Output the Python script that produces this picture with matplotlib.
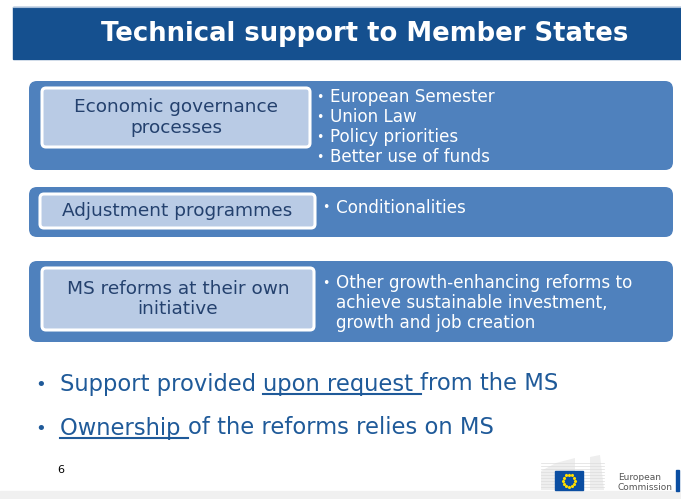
import numpy as np
import matplotlib
matplotlib.use("Agg")
import matplotlib.pyplot as plt
from matplotlib.patches import FancyBboxPatch, Rectangle, Polygon

plt.rcParams['font.family'] = ['DejaVu Sans']

# --- slide content ---
title = "Technical support to Member States"
box_labels = ["Economic governance\nprocesses", "Adjustment programmes",
              "MS reforms at their own\ninitiative"]
box_bullets = [
    ["European Semester", "Union Law", "Policy priorities", "Better use of funds"],
    ["Conditionalities"],
    ["Other growth-enhancing reforms to", "achieve sustainable investment,",
     "growth and job creation"],
]
# bottom bullets: (text, underlined?) pieces
bottom_bullets = [
    [("Support provided ", False), ("upon request ", True), ("from the MS", False)],
    [("Ownership ", True), ("of the reforms relies on MS", False)],
]
page_no = "6"
logo_text = ["European", "Commission"]

# layout (px)
outer = [(29, 81, 644, 89), (29, 187, 644, 50), (29, 261, 644, 81)]
inner = [(42, 88, 268, 59), (40, 194, 275, 34), (42, 268, 272, 62)]
bullet_x = [316, 322, 322]
bullet_y0 = [97, 208, 283]

DARK = "#15508f"
MID = "#4f81bd"
LIGHT = "#b9cbe5"
INNER_TXT = "#24416e"
BOTTOM_TXT = "#1f5a99"

fig = plt.figure(figsize=(6.81, 4.99), dpi=100)
ax = fig.add_axes([0, 0, 1, 1])
ax.set_xlim(0, 681)
ax.set_ylim(499, 0)
ax.axis("off")

# title bar
ax.add_patch(Rectangle((13, 7), 668, 52, color=DARK, zorder=1))
ax.plot([13, 681], [6.5, 6.5], color="#a9bfd9", lw=0.8, zorder=2)
ax.text(365, 34, title, color="white", fontsize=18.6, fontweight="bold",
        ha="center", va="center", zorder=2)

for i in range(3):
    x, y, w, h = outer[i]
    ax.add_patch(FancyBboxPatch((x, y), w, h, boxstyle="round,pad=0,rounding_size=8",
                                fc=MID, ec="none", zorder=1))
    x, y, w, h = inner[i]
    ax.add_patch(FancyBboxPatch((x, y), w, h, boxstyle="round,pad=0,rounding_size=4",
                                fc=LIGHT, ec="white", lw=2.2, zorder=2))
    ax.text(x + w / 2, y + h / 2, box_labels[i], color=INNER_TXT, fontsize=13.3,
            ha="center", va="center", linespacing=1.15, zorder=3)
    bx = bullet_x[i]
    for j, line in enumerate(box_bullets[i]):
        yy = bullet_y0[i] + j * 20
        if i == 0 or j == 0:
            ax.text(bx, yy, "•", color="white", fontsize=9, ha="left", va="center", zorder=3)
        ax.text(bx + 14, yy, line, color="white", fontsize=12.1, ha="left",
                va="center", zorder=3)

# bottom bullets with underlined parts
fig.canvas.draw()
r = fig.canvas.get_renderer()


def text_w(s, fs):
    t = ax.text(0, 0, s + "x", fontsize=fs)
    t2 = ax.text(0, 0, "x", fontsize=fs)
    e1 = t.get_window_extent(r)
    e2 = t2.get_window_extent(r)
    t.remove()
    t2.remove()
    return (e1.width - e2.width)


fs = 16.3
for k, pieces in enumerate(bottom_bullets):
    yy = 384 + k * 44
    ax.text(35, yy + 1, "•", color=BOTTOM_TXT, fontsize=13, ha="left", va="center")
    x = 60
    for s, ul in pieces:
        ax.text(x, yy, s, color=BOTTOM_TXT, fontsize=fs, ha="left", va="center")
        w = text_w(s, fs)
        if ul:
            ax.plot([x, x + w], [yy + 10, yy + 10], color=BOTTOM_TXT, lw=1.5)
        x += w

ax.text(57, 470, page_no, color="black", fontsize=8, ha="left", va="center")

# bottom grey strip
ax.add_patch(Rectangle((0, 491), 681, 8, color="#f0f0f0", zorder=0))

# EC logo (simplified building + flag)
ax.add_patch(Polygon([(541, 471), (556, 463), (575, 458), (575, 490), (541, 490)],
                     closed=True, fc="#eeeeee", ec="none", zorder=1))
ax.add_patch(Polygon([(590, 457), (600, 455), (604, 490), (590, 490)],
                     closed=True, fc="#eeeeee", ec="none", zorder=1))
for yl in range(463, 490, 3):
    ax.plot([541, 604], [yl, yl], color="#dddddd", lw=0.5, zorder=1)
ax.add_patch(Rectangle((555, 471), 28, 19, color="#0b4ea2", zorder=2))
ang = np.linspace(0, 2 * np.pi, 12, endpoint=False)
ax.scatter(569 + 6 * np.cos(ang), 480.5 + 6 * np.sin(ang), s=2,
           color="#ffdd00", zorder=3, marker="*")
ax.text(618, 478, logo_text[0], color="#555555", fontsize=6.5, ha="left", va="center")
ax.text(618, 488, logo_text[1], color="#555555", fontsize=6.5, ha="left", va="center")
ax.add_patch(Rectangle((676, 470), 2.5, 21, color="#0b4ea2", zorder=2))

fig.savefig("out.png", dpi=100)
